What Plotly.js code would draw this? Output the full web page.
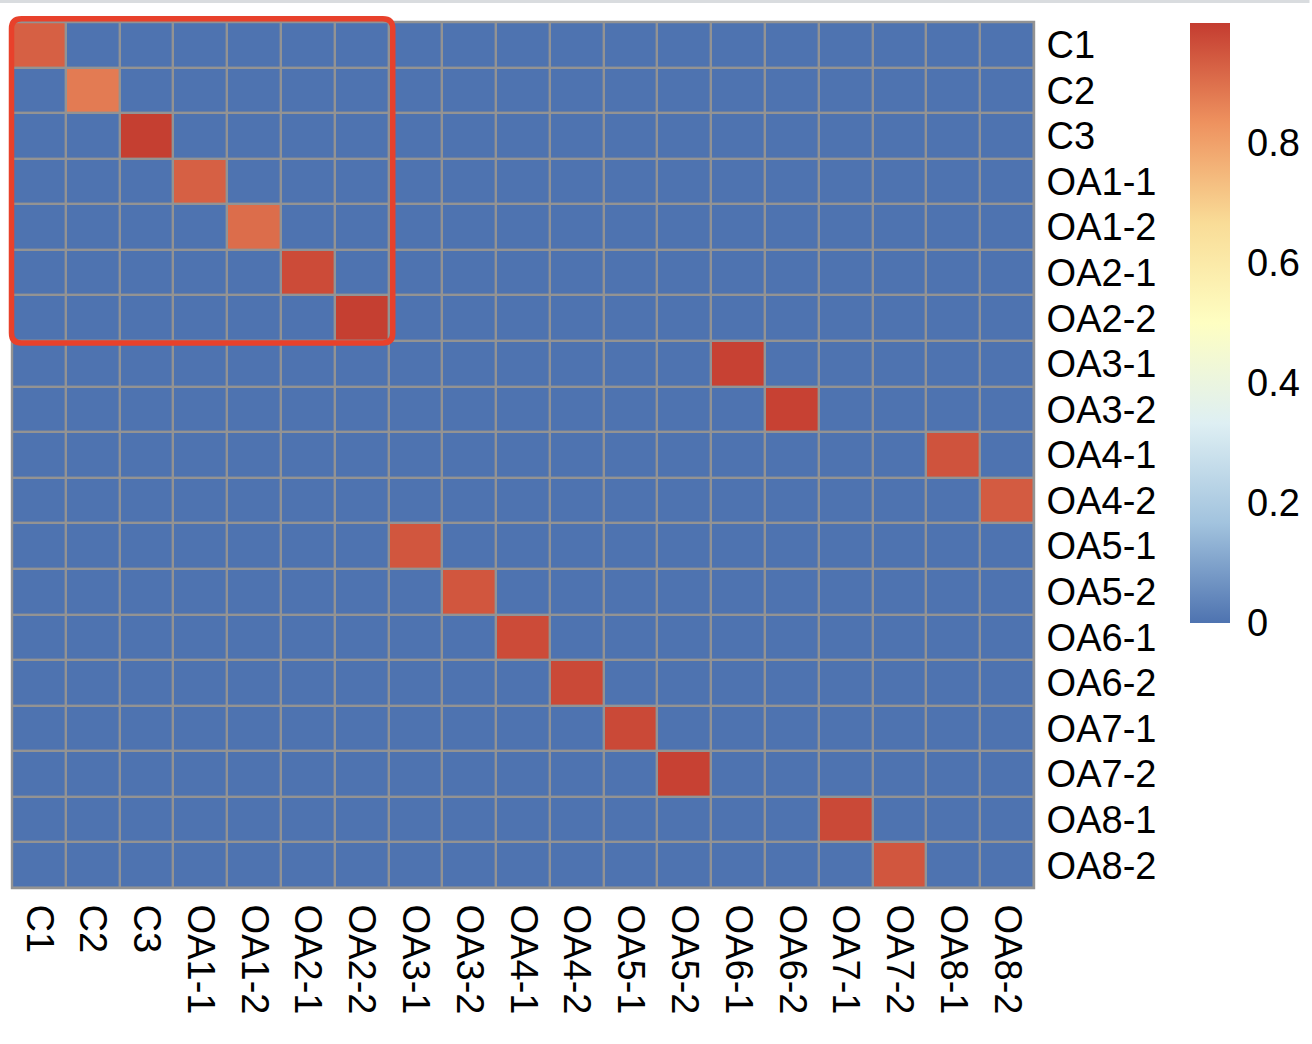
<!DOCTYPE html>
<html>
<head>
<meta charset="utf-8">
<script src="https://cdn.plot.ly/plotly-3.0.1.min.js"></script>
<style>
  html, body { margin: 0; padding: 0; background: #ffffff; }
  #chart { width: 1312px; height: 1044px; }
</style>
</head>
<body>
<div id="chart"></div>
<script>
// Row labels (top to bottom) and column labels (left to right)
const rowLabels = ['C1','C2','C3','OA1-1','OA1-2','OA2-1','OA2-2','OA3-1','OA3-2','OA4-1','OA4-2','OA5-1','OA5-2','OA6-1','OA6-2','OA7-1','OA7-2','OA8-1','OA8-2'];
const colLabels = ['C1','C2','C3','OA1-1','OA1-2','OA2-1','OA2-2','OA3-1','OA3-2','OA4-1','OA4-2','OA5-1','OA5-2','OA6-1','OA6-2','OA7-1','OA7-2','OA8-1','OA8-2'];

// Correlation values, one row per row label
const rowC1   = [0.93,0,0,0,0,0,0,0,0,0,0,0,0,0,0,0,0,0,0];
const rowC2   = [0,0.877,0,0,0,0,0,0,0,0,0,0,0,0,0,0,0,0,0];
const rowC3   = [0,0,0.995,0,0,0,0,0,0,0,0,0,0,0,0,0,0,0,0];
const rowOA11 = [0,0,0,0.93,0,0,0,0,0,0,0,0,0,0,0,0,0,0,0];
const rowOA12 = [0,0,0,0,0.905,0,0,0,0,0,0,0,0,0,0,0,0,0,0];
const rowOA21 = [0,0,0,0,0,0.97,0,0,0,0,0,0,0,0,0,0,0,0,0];
const rowOA22 = [0,0,0,0,0,0,0.995,0,0,0,0,0,0,0,0,0,0,0,0];
const rowOA31 = [0,0,0,0,0,0,0,0,0,0,0,0,0,0.99,0,0,0,0,0];
const rowOA32 = [0,0,0,0,0,0,0,0,0,0,0,0,0,0,0.99,0,0,0,0];
const rowOA41 = [0,0,0,0,0,0,0,0,0,0,0,0,0,0,0,0,0,0.955,0];
const rowOA42 = [0,0,0,0,0,0,0,0,0,0,0,0,0,0,0,0,0,0,0.94];
const rowOA51 = [0,0,0,0,0,0,0,0.95,0,0,0,0,0,0,0,0,0,0,0];
const rowOA52 = [0,0,0,0,0,0,0,0,0.95,0,0,0,0,0,0,0,0,0,0];
const rowOA61 = [0,0,0,0,0,0,0,0,0,0.97,0,0,0,0,0,0,0,0,0];
const rowOA62 = [0,0,0,0,0,0,0,0,0,0,0.975,0,0,0,0,0,0,0,0];
const rowOA71 = [0,0,0,0,0,0,0,0,0,0,0,0.975,0,0,0,0,0,0,0];
const rowOA72 = [0,0,0,0,0,0,0,0,0,0,0,0,0.99,0,0,0,0,0,0];
const rowOA81 = [0,0,0,0,0,0,0,0,0,0,0,0,0,0,0,0.975,0,0,0];
const rowOA82 = [0,0,0,0,0,0,0,0,0,0,0,0,0,0,0,0,0.95,0,0];

const zValues = [rowC1,rowC2,rowC3,rowOA11,rowOA12,rowOA21,rowOA22,rowOA31,rowOA32,rowOA41,rowOA42,rowOA51,rowOA52,rowOA61,rowOA62,rowOA71,rowOA72,rowOA81,rowOA82];

const colorbarTicks = [0, 0.2, 0.4, 0.6, 0.8];
const colorbarTickText = ['0', '0.2', '0.4', '0.6', '0.8'];

// ----- layout geometry -----
const W = 1312, H = 1044;
const mL = 12, mR = 276, mT = 22, mB = 156;
const plotW = W - mL - mR, plotH = H - mT - mB;
const px2x = p => (p - mL) / plotW;
const px2y = p => (H - mB - p) / plotH;

const fontFamily = '"Liberation Sans", Arial, Helvetica, sans-serif';
const gridColor = '#939393';
const labelSize = 38;

const trace = {
  type: 'heatmap',
  x: colLabels,
  y: rowLabels,
  z: zValues,
  zmin: 0,
  zmax: 1,
  xgap: 2.4,
  ygap: 2.4,
  colorscale: [
    [0, '#4E73B0'],
    [1/6, '#A2C3DE'],
    [2/6, '#DEEFF3'],
    [3/6, '#FEFEC2'],
    [4/6, '#F9DC97'],
    [5/6, '#EE925F'],
    [1, '#C43C30']
  ],
  hoverinfo: 'skip',
  colorbar: {
    thickness: 40,
    thicknessmode: 'pixels',
    len: 600,
    lenmode: 'pixels',
    x: px2x(1192),
    xanchor: 'left',
    xref: 'paper',
    y: px2y(23),
    yanchor: 'top',
    yref: 'paper',
    outlinewidth: 0,
    tickvals: colorbarTicks,
    ticktext: colorbarTickText,
    ticks: 'outside',
    ticklen: 10,
    tickcolor: 'rgba(0,0,0,0)',
    tickfont: { family: fontFamily, size: labelSize, color: '#000000' },
    xpad: 0,
    ypad: 0
  }
};

// Red rounded highlight rectangle (top-left 7x7 block)
const L = px2x(11.5), R = px2x(393.5), T = px2y(18.7), B = px2y(343);
const rx = 10 / plotW, ry = 10 / plotH;
const redPath = 'M ' + (L + rx) + ',' + T +
  ' L ' + (R - rx) + ',' + T +
  ' Q ' + R + ',' + T + ' ' + R + ',' + (T - ry) +
  ' L ' + R + ',' + (B + ry) +
  ' Q ' + R + ',' + B + ' ' + (R - rx) + ',' + B +
  ' L ' + (L + rx) + ',' + B +
  ' Q ' + L + ',' + B + ' ' + L + ',' + (B + ry) +
  ' L ' + L + ',' + (T - ry) +
  ' Q ' + L + ',' + T + ' ' + (L + rx) + ',' + T + ' Z';

const layout = {
  width: W,
  height: H,
  margin: { l: mL, r: mR, t: mT, b: mB, pad: 0 },
  paper_bgcolor: '#ffffff',
  plot_bgcolor: gridColor,
  font: { family: fontFamily, color: '#000000' },
  showlegend: false,
  xaxis: {
    type: 'category',
    side: 'bottom',
    tickmode: 'array',
    tickvals: colLabels,
    ticktext: colLabels,
    tickangle: 90,
    ticks: 'outside',
    ticklen: 8,
    tickcolor: 'rgba(0,0,0,0)',
    tickfont: { family: fontFamily, size: labelSize, color: '#000000' },
    showgrid: false,
    zeroline: false,
    showline: false,
    fixedrange: true
  },
  yaxis: {
    type: 'category',
    side: 'right',
    autorange: 'reversed',
    tickmode: 'array',
    tickvals: rowLabels,
    ticktext: rowLabels,
    ticks: 'outside',
    ticklen: 4,
    tickcolor: 'rgba(0,0,0,0)',
    tickfont: { family: fontFamily, size: labelSize, color: '#000000' },
    showgrid: false,
    zeroline: false,
    showline: false,
    fixedrange: true
  },
  shapes: [
    {
      type: 'rect', xref: 'paper', yref: 'paper',
      x0: px2x(0), x1: px2x(W), y0: px2y(3), y1: px2y(0),
      fillcolor: '#D9DCDF', line: { width: 0 }, layer: 'above'
    },
    {
      type: 'rect', xref: 'paper', yref: 'paper',
      x0: 0, x1: 1, y0: 0, y1: 1,
      line: { color: gridColor, width: 2.4 }, fillcolor: 'rgba(0,0,0,0)', layer: 'above'
    },
    {
      type: 'path', xref: 'paper', yref: 'paper',
      path: redPath,
      line: { color: '#E8412B', width: 5.5 },
      fillcolor: 'rgba(0,0,0,0)',
      layer: 'above'
    }
  ]
};

Plotly.newPlot('chart', [trace], layout, { staticPlot: true, displayModeBar: false });
</script>
</body>
</html>
